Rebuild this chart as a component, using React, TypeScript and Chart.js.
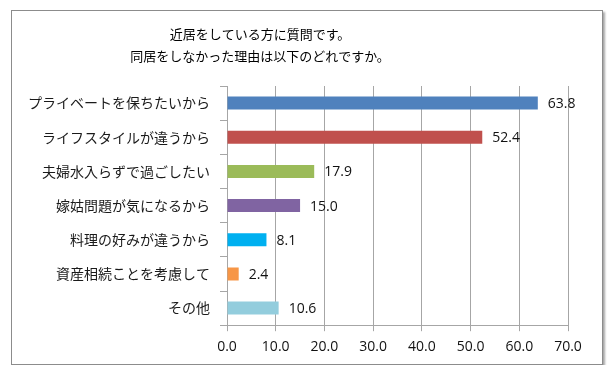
import React, { useEffect, useRef } from "react";
import { Chart, registerables } from "chart.js";

Chart.register(...registerables);

const titleLines = ["近居をしている方に質問です。", "同居をしなかった理由は以下のどれですか。"];
const categories = [
  "プライベートを保ちたいから",
  "ライフスタイルが違うから",
  "夫婦水入らずで過ごしたい",
  "嫁姑問題が気になるから",
  "料理の好みが違うから",
  "資産相続ことを考慮して",
  "その他",
];
const values = [63.8, 52.4, 17.9, 15.0, 8.1, 2.4, 10.6];
const barColors = ["#4F81BD", "#C0504D", "#9BBB59", "#8064A2", "#00B0F0", "#F79646", "#93CDDD"];
const xMin = 0;
const xMax = 70;
const xStep = 10;

const JP = "'Noto Sans CJK JP', 'Noto Sans', sans-serif";
const NUM = "'Open Sans', 'Liberation Sans', sans-serif";

const valueLabels = {
  id: "valueLabels",
  afterDatasetsDraw(chart: any) {
    const ctx = chart.ctx;
    const meta = chart.getDatasetMeta(0);
    ctx.save();
    ctx.font = `14px ${NUM}`;
    ctx.fillStyle = "#111";
    ctx.textAlign = "left";
    ctx.textBaseline = "middle";
    meta.data.forEach((bar: any, i: number) => {
      ctx.fillText(values[i].toFixed(1), bar.x + 10, bar.y + 1);
    });
    ctx.restore();
  },
};

const manualTitle = {
  id: "manualTitle",
  afterDraw(chart: any) {
    const ctx = chart.ctx;
    ctx.save();
    ctx.font = `13px ${JP}`;
    ctx.fillStyle = "#000";
    ctx.textAlign = "center";
    ctx.textBaseline = "middle";
    titleLines.forEach((line, i) => {
      ctx.fillText(line, 248, 23 + i * 22);
    });
    ctx.restore();
  },
};

export default function App() {
  const ref = useRef<HTMLCanvasElement>(null);
  useEffect(() => {
    if (!ref.current) return;
    const chart = new Chart(ref.current, {
      type: "bar",
      data: {
        labels: categories,
        datasets: [
          {
            data: values,
            backgroundColor: barColors,
            borderWidth: 0,
            barPercentage: 0.38,
            categoryPercentage: 1,
          },
        ],
      },
      plugins: [valueLabels, manualTitle],
      options: {
        indexAxis: "y",
        animation: false,
        responsive: false,
        maintainAspectRatio: false,
        layout: { padding: { left: 0, right: 34, top: 75, bottom: 2 } },
        plugins: {
          legend: { display: false },
          tooltip: { enabled: false },
          title: { display: false },
        },
        scales: {
          x: {
            min: xMin,
            max: xMax,
            ticks: {
              stepSize: xStep,
              color: "#111",
              font: { family: NUM, size: 14 },
              padding: 7,
              callback: (v: any) => Number(v).toFixed(1),
            },
            grid: { color: "#A6A6A6", lineWidth: 1, tickLength: 6 },
            border: { color: "#A6A6A6" },
          },
          y: {
            ticks: {
              color: "#1a1a1a",
              font: { family: JP, size: 14 },
              padding: 10,
            },
            grid: { drawOnChartArea: false, color: "#A6A6A6", tickLength: 7, offset: true },
            border: { color: "#A6A6A6" },
            afterFit: (scale: any) => {
              scale.width = 215;
            },
          },
        },
      },
    });
    return () => chart.destroy();
  }, []);
  return (
    <div
      style={{
        marginLeft: 3,
        marginTop: 2,
        width: 590,
        height: 353,
        border: "1px solid #8c8c8c",
        boxShadow: "2px 2px 2px rgba(0,0,0,0.35)",
        background: "#fff",
      }}
    >
      <canvas ref={ref} width={590} height={353} style={{ display: "block" }} />
    </div>
  );
}
